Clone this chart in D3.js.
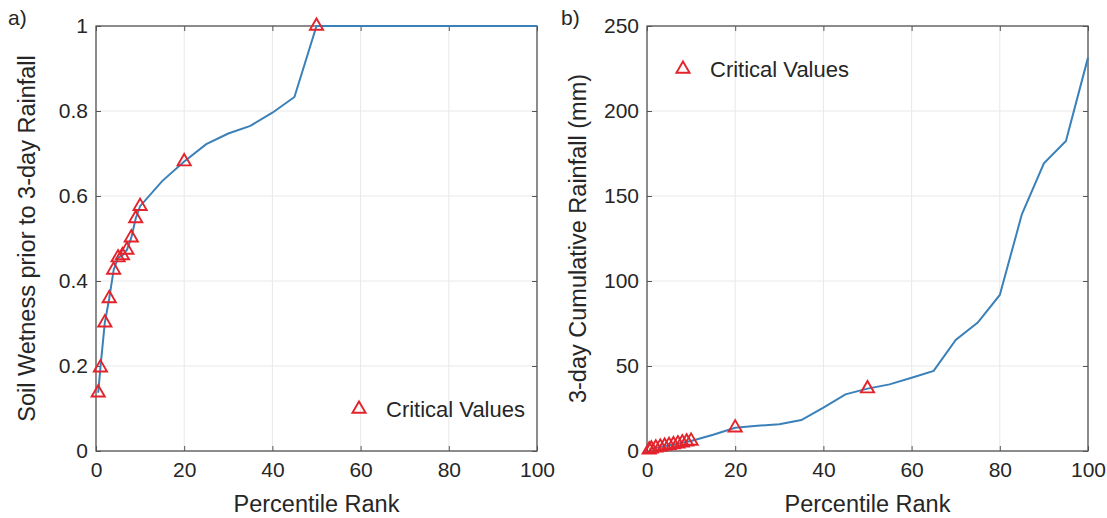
<!DOCTYPE html>
<html>
<head>
<meta charset="utf-8">
<script src="https://cdn.jsdelivr.net/npm/d3@7"></script>
<style>
  html, body { margin: 0; padding: 0; background: #fff; }
  svg { display: block; }
  text { font-family: "Liberation Sans", Arial, Helvetica, sans-serif; fill: #262626; }
</style>
</head>
<body>
<svg id="chart" width="1107" height="518"></svg>
<script>
// ---- Data ----
const xTicks = [0, 20, 40, 60, 80, 100];
const yTicksA = [0, 0.2, 0.4, 0.6, 0.8, 1];
const yTicksB = [0, 50, 100, 150, 200, 250];

const lineAx = [0.5,1,2,3,4,5,6,7,8,9,10,15,20,25,30,35,40,45,50,55,60,65,70,75,80,85,90,95,100];
const lineAy = [0.137,0.196,0.302,0.359,0.426,0.455,0.460,0.473,0.502,0.547,0.576,0.635,0.681,0.722,0.747,0.765,0.796,0.833,1,1,1,1,1,1,1,1,1,1,1];
const critAx = [0.5,1,2,3,4,5,6,7,8,9,10,20,50];
const critAy = [0.137,0.196,0.302,0.359,0.426,0.455,0.460,0.473,0.502,0.547,0.576,0.681,1];

const lineBx = [0.5,1,2,3,4,5,6,7,8,9,10,15,20,25,30,35,40,45,50,55,60,65,70,75,80,85,90,95,100];
const lineBy = [0.8,1.3,1.9,2.4,2.9,3.4,3.8,4.3,4.9,5.4,5.9,9.6,13.7,14.8,15.7,18.2,25.5,33.3,36.7,39.2,43.1,47.1,65.3,75.5,91.8,139.2,169.2,182.4,231.4];
const critBx = [0.5,1,2,3,4,5,6,7,8,9,10,20,50];
const critBy = [0.8,1.3,1.9,2.4,2.9,3.4,3.8,4.3,4.9,5.4,5.9,13.7,36.7];

const xLabel = "Percentile Rank";
const yLabelA = "Soil Wetness prior to 3-day Rainfall";
const yLabelB = "3-day Cumulative Rainfall (mm)";
const legendText = "Critical Values";

// ---- Styles ----
const lineColor = "#3a80b9";
const markColor = "#e3232c";
const frameColor = "#555555";
const gridColor = "#e8e8e8";

const svg = d3.select("#chart");

function panel(opts) {
  const { x0, x1, y0, y1, yDomain, yTicks, yFmt, lx, ly, cx, cy, yLabel, yLabelX, tag, tagX, legX, legY } = opts;
  const g = svg.append("g");
  const x = d3.scaleLinear().domain([0, 100]).range([x0, x1]);
  const y = d3.scaleLinear().domain(yDomain).range([y1, y0]);

  // grid
  g.append("g").selectAll("line").data(xTicks).join("line")
    .attr("x1", d => x(d)).attr("x2", d => x(d))
    .attr("y1", y0).attr("y2", y1)
    .attr("stroke", gridColor).attr("stroke-width", 1);
  g.append("g").selectAll("line").data(yTicks).join("line")
    .attr("y1", d => y(d)).attr("y2", d => y(d))
    .attr("x1", x0).attr("x2", x1)
    .attr("stroke", gridColor).attr("stroke-width", 1);

  // axes (ticks inward, on all sides)
  const tl = 5;
  const bottom = g.append("g").attr("transform", `translate(0,${y1})`)
    .call(d3.axisBottom(x).tickValues(xTicks).tickSize(-tl).tickPadding(11).tickFormat(d3.format("~g")));
  const top = g.append("g").attr("transform", `translate(0,${y0})`)
    .call(d3.axisTop(x).tickValues(xTicks).tickSize(-tl).tickFormat(""));
  const left = g.append("g").attr("transform", `translate(${x0},0)`)
    .call(d3.axisLeft(y).tickValues(yTicks).tickSize(-tl).tickPadding(8).tickFormat(yFmt));
  const right = g.append("g").attr("transform", `translate(${x1},0)`)
    .call(d3.axisRight(y).tickValues(yTicks).tickSize(-tl).tickFormat(""));
  [bottom, top, left, right].forEach(a => {
    a.select(".domain").remove();
    a.selectAll(".tick line").attr("stroke", frameColor);
    a.selectAll(".tick text").style("font-size", "21px").attr("fill", "#262626")
      .style("font-family", '"Liberation Sans", Arial, sans-serif');
  });
  bottom.selectAll(".tick text").attr("dy", "0.71em");

  // frame
  g.append("rect").attr("x", x0).attr("y", y0).attr("width", x1 - x0).attr("height", y1 - y0)
    .attr("fill", "none").attr("stroke", frameColor).attr("stroke-width", 1.3);

  // line
  const line = d3.line().x(d => x(d[0])).y(d => y(d[1]));
  g.append("path").datum(d3.zip(lx, ly)).attr("d", line)
    .attr("fill", "none").attr("stroke", lineColor).attr("stroke-width", 2);

  // markers
  const sym = d3.symbol().type(d3.symbolTriangle).size(75);
  g.append("g").selectAll("path").data(d3.zip(cx, cy)).join("path")
    .attr("d", sym)
    .attr("transform", d => `translate(${x(d[0])},${y(d[1])})`)
    .attr("fill", "none").attr("stroke", markColor).attr("stroke-width", 1.9);

  // legend
  g.append("path").attr("d", sym).attr("transform", `translate(${legX},${legY})`)
    .attr("fill", "none").attr("stroke", markColor).attr("stroke-width", 1.9);
  g.append("text").attr("x", legX + 27).attr("y", legY).attr("dy", "0.36em")
    .style("font-size", "22px").text(legendText);

  // labels
  g.append("text").attr("x", (x0 + x1) / 2).attr("y", 512).attr("text-anchor", "middle")
    .style("font-size", "23.5px").text(xLabel);
  g.append("text").attr("transform", `translate(${yLabelX},${(y0 + y1) / 2}) rotate(-90)`)
    .attr("text-anchor", "middle").attr("dy", "0.36em")
    .style("font-size", "23.5px").text(yLabel);
  g.append("text").attr("x", tagX).attr("y", 25).style("font-size", "21px").text(tag);
}

panel({
  x0: 96, x1: 537, y0: 26, y1: 451,
  yDomain: [0, 1], yTicks: yTicksA, yFmt: d3.format("~g"),
  lx: lineAx, ly: lineAy, cx: critAx, cy: critAy,
  yLabel: yLabelA, yLabelX: 27, tag: "a)", tagX: 8,
  legX: 359, legY: 409
});

panel({
  x0: 647, x1: 1088, y0: 26, y1: 451,
  yDomain: [0, 250], yTicks: yTicksB, yFmt: d3.format("~g"),
  lx: lineBx, ly: lineBy, cx: critBx, cy: critBy,
  yLabel: yLabelB, yLabelX: 578, tag: "b)", tagX: 561,
  legX: 683, legY: 69
});
</script>
</body>
</html>
